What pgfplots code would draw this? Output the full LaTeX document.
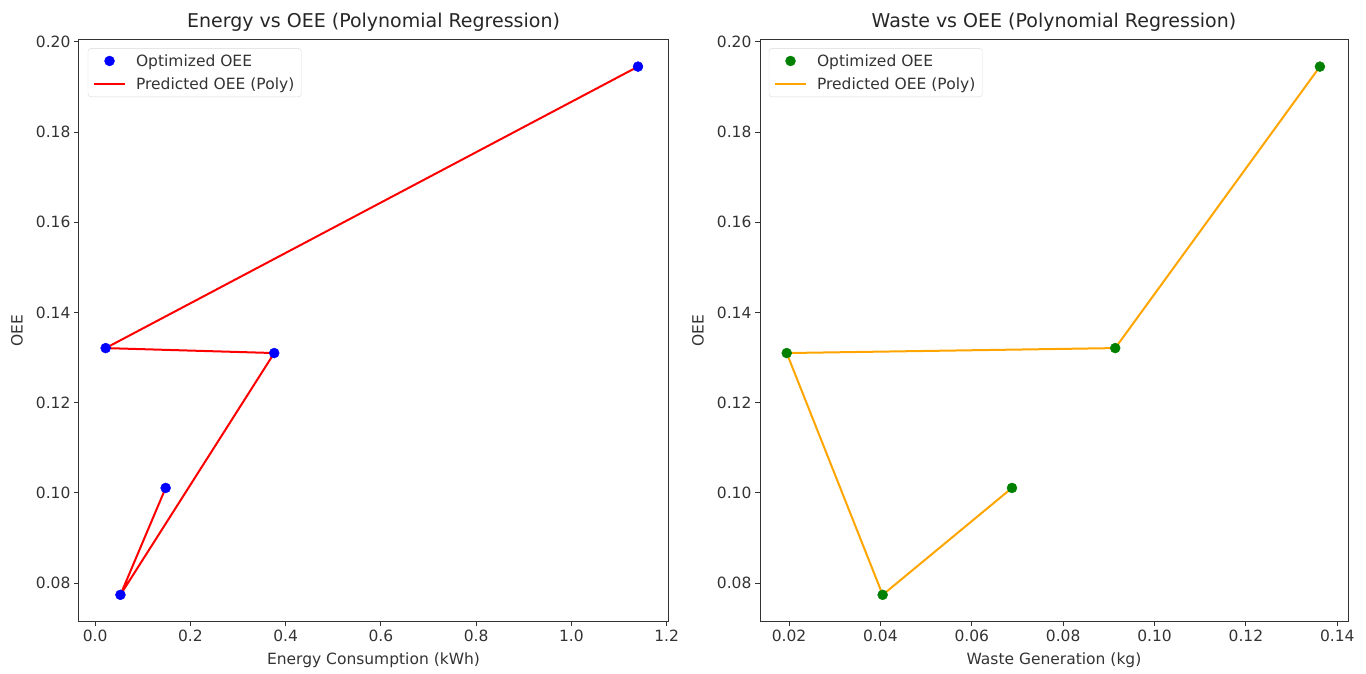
\documentclass[border=0pt]{standalone}
\usepackage{pgfplots}
\pgfplotsset{compat=1.18}
\usepackage{fontspec}
\setmainfont{DejaVu Sans}
\definecolor{mplorange}{RGB}{255,165,0}
\definecolor{mplgreen}{RGB}{0,128,0}
\pgfplotsset{
  myaxis/.style={
    scale only axis,
    anchor=south west,
    width=589pt, height=581pt,
    ymin=0.0716, ymax=0.2004,
    ytick={0.08,0.10,0.12,0.14,0.16,0.18,0.20},
    yticklabel style={/pgf/number format/.cd,fixed,fixed zerofill,precision=2},
    tick align=outside,
    major tick length=5pt,
    axis line style={line width=1pt, black!80},
    tick style={line width=1pt, black!80},
    xtick pos=bottom, ytick pos=left,
    /pgf/number format/assume math mode=true,
    tick label style={font=\fontsize{15.5}{18}\selectfont, text=black!80},
    every axis title/.style={font=\fontsize{19}{22}\selectfont, text=black!85, at={(axis description cs:0.5,1.0344)}, anchor=center, yshift=-2pt},
    every axis y label/.style={font=\fontsize{15.5}{18}\selectfont, text=black!80, at={(axis description cs:-0.1053,0.5)}, rotate=90, anchor=center},
    every axis x label/.style={font=\fontsize{15.5}{18}\selectfont, text=black!80, at={(axis description cs:0.5,-0.0671)}, anchor=center},
    legend style={at={(axis description cs:0.015,0.986)}, anchor=north west,
      draw=black!15, rounded corners=3pt, fill=white, fill opacity=0.8, text opacity=1,
      font=\fontsize{15.5}{18}\selectfont, text=black!80,
      row sep=6pt, inner xsep=5pt, inner ysep=4pt,
      /tikz/every odd column/.append style={column sep=8pt}},
    legend cell align=left,
  },
  scatleg/.style={legend image code/.code={\path[draw=none] (0pt,0pt) -- (31pt,0pt); \draw[##1, only marks, fill opacity=1, draw opacity=1] plot coordinates {(15.5pt,0pt)};}},
  lineleg/.style={legend image code/.code={\draw[##1, draw opacity=1] (0pt,0pt) -- (31pt,0pt);}},
}
\begin{document}
\begin{tikzpicture}[x=1pt,y=1pt]
\useasboundingbox (0,0) rectangle (1366,673);
\begin{axis}[myaxis, at={(79pt,52pt)},
  xmin=-0.034, xmax=1.203,
  xtick={0,0.2,0.4,0.6,0.8,1.0,1.2},
  xticklabel style={/pgf/number format/.cd,fixed,fixed zerofill,precision=1},
  title={Energy vs OEE (Polynomial Regression)},
  xlabel={Energy Consumption (kWh)}, ylabel={OEE}]
\addplot[only marks, mark=*, mark size=5pt, blue, scatleg] coordinates {
  (1.140,0.1945) (0.022,0.1321) (0.376,0.1310) (0.053,0.0774) (0.148,0.1011)};
\addlegendentry{Optimized OEE}
\addplot[red, line width=2pt, lineleg] coordinates {
  (1.140,0.1945) (0.022,0.1321) (0.376,0.1310) (0.053,0.0774) (0.148,0.1011)};
\addlegendentry{Predicted OEE (Poly)}
\end{axis}
\begin{axis}[myaxis, at={(760pt,52pt)}, width=588pt,
  xmin=0.01365, xmax=0.14235,
  xtick={0.02,0.04,0.06,0.08,0.10,0.12,0.14},
  xticklabel style={/pgf/number format/.cd,fixed,fixed zerofill,precision=2},
  title={Waste vs OEE (Polynomial Regression)},
  xlabel={Waste Generation (kg)}, ylabel={OEE}]
\addplot[only marks, mark=*, mark size=5pt, mplgreen, scatleg] coordinates {
  (0.0195,0.1310) (0.0405,0.0774) (0.0688,0.1011) (0.0914,0.1321) (0.1362,0.1945)};
\addlegendentry{Optimized OEE}
\addplot[mplorange, line width=2pt, lineleg] coordinates {
  (0.0688,0.1011) (0.0405,0.0774) (0.0195,0.1310) (0.0914,0.1321) (0.1362,0.1945)};
\addlegendentry{Predicted OEE (Poly)}
\end{axis}
\end{tikzpicture}
\end{document}
